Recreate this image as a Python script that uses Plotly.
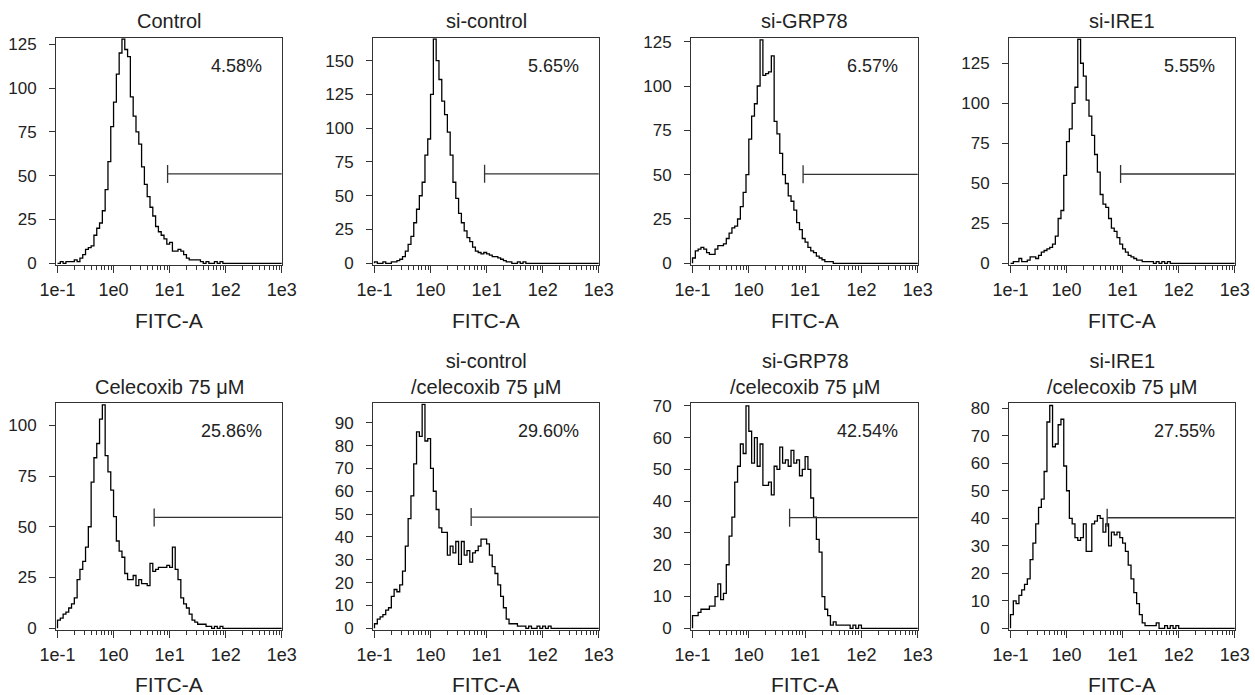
import numpy as np
import plotly.graph_objects as go

# ---------------- data ----------------
TITLES = ["Control", "si-control", "si-GRP78", "si-IRE1",
          "Celecoxib 75 μM", "si-control<br>/celecoxib 75 μM",
          "si-GRP78<br>/celecoxib 75 μM", "si-IRE1<br>/celecoxib 75 μM"]
PERCENTS = ["4.58%", "5.65%", "6.57%", "5.55%", "25.86%", "29.60%", "42.54%", "27.55%"]
X_TICK_VALUES = [0.1, 1, 10, 100, 1000]
X_TICK_LABELS = ["1e-1", "1e0", "1e1", "1e2", "1e3"]
X_LABEL = "FITC-A"
Y_MAX = [128.4, 166.5, 126.9, 140.6, 110.8, 98.5, 70.8, 81.8]
Y_TICK_STEP = [25, 25, 25, 25, 25, 10, 10, 10]
GATE_START = [9.2, 9.2, 9.2, 9.2, 5.3, 5.3, 5.3, 5.3]
GATE_LEVEL = [51, 66.2, 50.2, 55.8, 54.6, 48.7, 34.8, 40.2]

# histogram counts, bins of 0.05 decade starting at 1e-1
BIN_LOG_START = -1.0
BIN_LOG_WIDTH = 0.05

CONTROL = [0, 1, 0, 1, 1, 1, 2, 1, 3, 5, 8, 9, 10, 16, 20, 23, 30, 42, 58, 78,
           92, 108, 120, 128, 122, 118, 95, 84, 75, 68, 55, 45, 38, 32, 27, 21, 18, 16, 14, 11,
           12, 7, 7, 8, 7, 5, 3, 2, 2, 2, 2, 1, 0, 1, 0, 0, 1, 0, 1]
SI_CONTROL = [1, 0, 0, 1, 0, 0, 1, 1, 2, 3, 5, 9, 14, 20, 30, 40, 50, 60, 80, 92,
              125, 166, 150, 136, 120, 110, 97, 80, 60, 48, 37, 30, 24, 19, 16, 12, 9, 8, 7, 8,
              7, 6, 5, 5, 4, 3, 2, 1, 1, 0, 0, 1, 0, 1]
SI_GRP78 = [3, 7, 8, 9, 8, 6, 5, 5, 8, 10, 10, 11, 14, 17, 20, 21, 25, 32, 40, 50,
            70, 83, 90, 100, 126, 106, 107, 108, 117, 80, 73, 62, 50, 45, 38, 35, 30, 23, 19, 14,
            12, 9, 7, 6, 4, 3, 2, 1, 1, 1]
SI_IRE1 = [0, 1, 1, 3, 1, 1, 2, 4, 4, 3, 5, 7, 8, 9, 10, 12, 17, 28, 33, 55,
           76, 84, 100, 110, 140, 125, 117, 102, 92, 80, 68, 57, 43, 37, 35, 28, 22, 20, 16, 12,
           9, 7, 5, 4, 3, 2, 2, 1, 1, 1, 1, 0, 1, 0, 1, 0, 1]
CELECOXIB = [4, 5, 7, 8, 10, 12, 15, 24, 29, 33, 40, 50, 72, 84, 91, 103, 110, 85, 77, 68,
             55, 43, 38, 35, 27, 24, 24, 26, 21, 24, 22, 22, 21, 32, 28, 29, 30, 30, 30, 31,
             30, 40, 29, 24, 15, 12, 10, 7, 4, 3, 2, 2, 2, 1, 1, 0, 1, 0, 1]
SI_CONTROL_CEL = [2, 4, 5, 6, 8, 9, 14, 17, 16, 19, 25, 36, 48, 58, 72, 86, 84, 98, 82, 83,
                  70, 60, 52, 44, 42, 42, 32, 36, 33, 38, 28, 38, 32, 34, 29, 33, 34, 36, 39, 39,
                  37, 32, 27, 24, 19, 14, 9, 4, 2, 2, 2, 1, 1, 1, 0, 1, 0, 0, 1, 0, 1, 0, 1]
SI_GRP78_CEL = [4, 4, 5, 6, 6, 6, 7, 7, 10, 14, 9, 11, 20, 29, 35, 46, 51, 58, 55, 70,
                62, 52, 60, 51, 58, 45, 45, 46, 42, 51, 50, 57, 52, 53, 51, 56, 52, 53, 48, 50,
                54, 50, 41, 35, 28, 24, 10, 6, 4, 1, 2, 1, 1, 1, 1, 1, 0, 1, 0, 1]
SI_IRE1_CEL = [5, 10, 9, 12, 14, 16, 18, 25, 31, 38, 44, 47, 57, 75, 81, 66, 67, 74, 76, 59,
               50, 40, 38, 33, 32, 33, 38, 28, 28, 38, 39, 41, 40, 35, 38, 30, 35, 34, 35, 33,
               31, 28, 23, 18, 13, 9, 5, 2, 1, 1, 1, 1, 2, 0, 0, 1, 0, 1, 0, 1]

COUNTS = [CONTROL, SI_CONTROL, SI_GRP78, SI_IRE1,
          CELECOXIB, SI_CONTROL_CEL, SI_GRP78_CEL, SI_IRE1_CEL]

# ---------------- layout geometry (page pixels) ----------------
W, H = 1255, 695
COL_PX = [(56, 282), (373, 599), (691, 918), (1009, 1235)]
ROW_PX = [(38.3, 265), (403.3, 630)]
TEXT = "#222222"
AXC = "#333333"
FONT = "Liberation Sans, Arial, Helvetica, sans-serif"


def px_x(p):
    return p / W


def px_y(p):
    return 1 - p / H


minor_vals = [k * 10.0 ** d for d in range(-1, 3) for k in range(2, 10)]

fig = go.Figure()
annotations = []

for k, counts in enumerate(COUNTS):
    row, col = divmod(k, 4)
    sfx = "" if k == 0 else str(k + 1)
    xa, ya = "x" + sfx, "y" + sfx
    x0p, x1p = COL_PX[col]
    t0p, b0p = ROW_PX[row]
    ymax = Y_MAX[k]

    n = len(counts)
    edges = 10.0 ** (BIN_LOG_START + BIN_LOG_WIDTH * np.arange(n + 1))
    xs = [edges[0]] + list(edges[:n]) + [edges[n], 1000]
    ys = [0] + list(counts) + [0, 0]
    fig.add_trace(go.Scatter(x=xs, y=ys, mode="lines", line=dict(color="black", width=1.3, shape="hv"),
                             xaxis=xa, yaxis=ya, showlegend=False, hoverinfo="skip"))

    g, lv = GATE_START[k], GATE_LEVEL[k]
    d = 0.04 * ymax
    fig.add_trace(go.Scatter(x=[g, 1000, None, g, g], y=[lv, lv, None, lv - d, lv + d], mode="lines",
                             line=dict(color=AXC, width=1.3), xaxis=xa, yaxis=ya,
                             showlegend=False, hoverinfo="skip"))

    yt = list(range(0, int(ymax) + 1, Y_TICK_STEP[k]))
    fig.layout["xaxis" + sfx] = dict(
        type="log", range=[-1.027, 3.005], domain=[px_x(x0p), px_x(x1p)], anchor=ya,
        automargin=False,
        showline=True, mirror=True, linecolor=AXC, linewidth=1,
        ticks="outside", ticklen=7, tickcolor=AXC, tickwidth=1,
        tickmode="array", tickvals=X_TICK_VALUES, ticktext=X_TICK_LABELS,
        tickfont=dict(size=18, color=TEXT, family=FONT), showgrid=False, zeroline=False,
        ticklabelstandoff=1,
        minor=dict(tickvals=minor_vals, ticks="outside", ticklen=4, tickcolor=AXC, showgrid=False),
    )
    fig.layout["yaxis" + sfx] = dict(
        range=[-0.0075 * ymax, ymax], domain=[px_y(b0p), px_y(t0p)], anchor=xa,
        automargin=False,
        showline=True, mirror=True, linecolor=AXC, linewidth=1,
        ticks="outside", ticklen=6, tickcolor=AXC, tickwidth=1,
        tickmode="array", tickvals=yt, ticktext=[str(v) for v in yt],
        tickfont=dict(size=17, color=TEXT, family=FONT), showgrid=False, zeroline=False,
        ticklabelstandoff=9,
    )

    cx = px_x((x0p + x1p) / 2)
    if row == 0:
        ty = 21
    else:
        ty = 373.5 if "<br>" in TITLES[k] else 387
    annotations.append(dict(text=TITLES[k], x=cx, y=px_y(ty), xref="paper", yref="paper",
                            xanchor="center", yanchor="middle", showarrow=False,
                            font=dict(size=20, color=TEXT, family=FONT)))
    annotations.append(dict(text=PERCENTS[k], x=px_x(x1p - 18), y=px_y(t0p + 28),
                            xref="paper", yref="paper", xanchor="right", yanchor="middle",
                            showarrow=False, font=dict(size=18, color=TEXT, family=FONT)))
    annotations.append(dict(text=X_LABEL, x=cx, y=px_y(320 if row == 0 else 684),
                            xref="paper", yref="paper", xanchor="center", yanchor="middle",
                            showarrow=False, font=dict(size=21, color=TEXT, family=FONT)))

fig.update_layout(template="none", width=W, height=H, margin=dict(l=0, r=0, t=0, b=0),
                  paper_bgcolor="white", plot_bgcolor="white", hovermode=False,
                  annotations=annotations, font=dict(family=FONT, color=TEXT))
fig.write_html("out.html",
               config={"displayModeBar": False},
               post_script="document.documentElement.style.margin='0';"
                           "document.body.style.margin='0';"
                           "document.documentElement.style.overflow='hidden';"
                           "document.body.style.overflow='hidden';")
